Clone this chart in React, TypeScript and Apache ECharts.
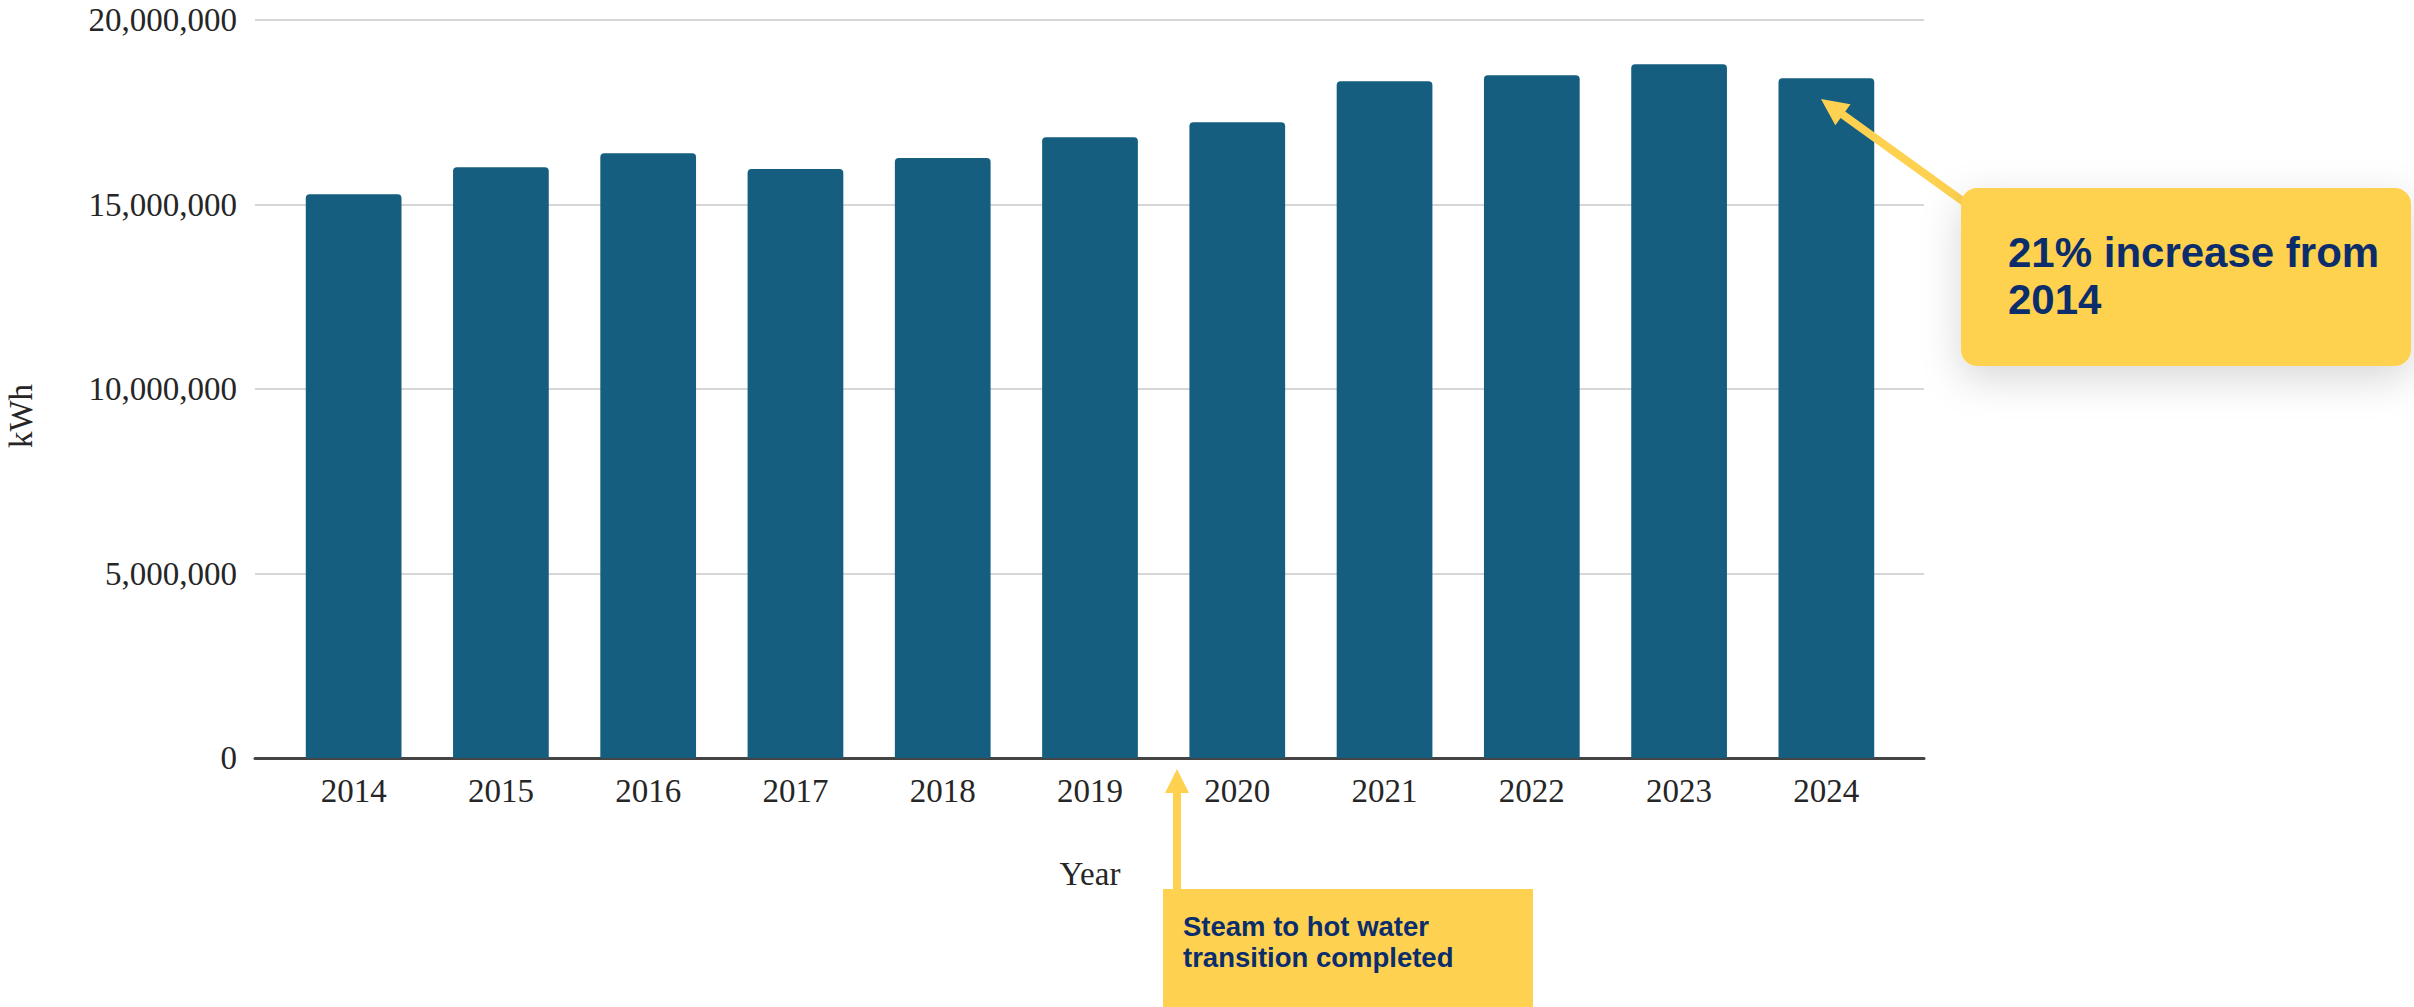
import React, { useEffect, useRef } from "react";
import * as echarts from "echarts";

const years = ["2014", "2015", "2016", "2017", "2018", "2019", "2020", "2021", "2022", "2023", "2024"];
const kwh = [15280000, 16010000, 16390000, 15960000, 16260000, 16820000, 17230000, 18340000, 18500000, 18800000, 18420000];
const yMin = 0;
const yMax = 20000000;
const yStep = 5000000;
const yAxisName = "kWh";
const xAxisName = "Year";
const noteTransition = ["Steam to hot water", "transition completed"];
const noteIncrease = ["21% increase from", "2014"];

const BAR = "#165e80";
const YELLOW = "#fed150";
const NAVY = "#0b2d6b";
const SERIF = "'Liberation Serif', 'Times New Roman', serif";
const SANS = "'Liberation Sans', Arial, sans-serif";

function arrowPoints(x1: number, y1: number, x2: number, y2: number, shaft: number, headLen: number, headW: number) {
  const dx = x2 - x1, dy = y2 - y1;
  const L = Math.hypot(dx, dy);
  const ux = dx / L, uy = dy / L;
  const nx = -uy, ny = ux;
  const bx = x2 - ux * headLen, by = y2 - uy * headLen;
  const s = shaft / 2, h = headW / 2;
  return [
    [x1 + nx * s, y1 + ny * s],
    [bx + nx * s, by + ny * s],
    [bx + nx * h, by + ny * h],
    [x2, y2],
    [bx - nx * h, by - ny * h],
    [bx - nx * s, by - ny * s],
    [x1 - nx * s, y1 - ny * s],
  ];
}

function lines(texts: string[], x: number, y0: number, step: number, font: string) {
  return texts.map((t, i) => ({
    type: "text",
    x,
    y: y0 + i * step,
    z: 11,
    style: { text: t, fill: NAVY, font, align: "left", verticalAlign: "middle" },
  }));
}

export default function App() {
  const ref = useRef<HTMLDivElement>(null);
  useEffect(() => {
    if (!ref.current) return;
    const chart = echarts.init(ref.current, undefined, { renderer: "svg" });
    const fmt = (v: number) => Number(v).toLocaleString("en-US");
    chart.setOption({
      animation: false,
      backgroundColor: "#ffffff",
      grid: [
        { left: 255, right: 490, top: 20, bottom: 249 },
        { left: 280, right: 514, top: 20, bottom: 249 },
      ],
      xAxis: [
        {
          type: "category",
          gridIndex: 0,
          data: years,
          axisLine: { show: true, lineStyle: { color: "#444444", width: 3 } },
          axisTick: { show: false },
          axisLabel: { show: false },
          splitLine: { show: false },
        },
        {
          type: "category",
          gridIndex: 1,
          data: years,
          axisLine: { show: false },
          axisTick: { show: false },
          axisLabel: { show: true, color: "#262626", fontFamily: SERIF, fontSize: 33, margin: 16 },
          name: xAxisName,
          nameLocation: "middle",
          nameGap: 99,
          nameTextStyle: { color: "#262626", fontFamily: SERIF, fontSize: 33 },
        },
      ],
      yAxis: [
        {
          type: "value",
          gridIndex: 0,
          min: yMin,
          max: yMax,
          interval: yStep,
          axisLine: { show: false },
          axisTick: { show: false },
          axisLabel: { color: "#262626", fontFamily: SERIF, fontSize: 33, margin: 18, formatter: fmt },
          splitLine: { show: true, lineStyle: { color: "#d6d6d6", width: 2 } },
        },
        {
          type: "value",
          gridIndex: 1,
          min: yMin,
          max: yMax,
          interval: yStep,
          show: false,
          splitLine: { show: false },
        },
      ],
      series: [
        {
          type: "bar",
          xAxisIndex: 1,
          yAxisIndex: 1,
          data: kwh,
          barWidth: "65%",
          itemStyle: { color: BAR, borderRadius: [4, 4, 0, 0] },
          z: 3,
        },
      ],
      graphic: [
        {
          type: "text",
          x: 21,
          y: 416,
          rotation: Math.PI / 2,
          style: { text: yAxisName, fill: "#262626", font: `33px ${SERIF}`, align: "center", verticalAlign: "middle" },
        },
        {
          type: "polygon",
          shape: { points: arrowPoints(1177, 889, 1177, 769, 8, 24, 24) },
          style: { fill: YELLOW },
          z: 10,
        },
        {
          type: "rect",
          shape: { x: 1163, y: 889, width: 370, height: 130 },
          style: { fill: YELLOW },
          z: 10,
        },
        ...lines(noteTransition, 1183, 926.5, 31, `bold 27.5px ${SANS}`),
        {
          type: "polygon",
          shape: { points: arrowPoints(1964, 202, 1821, 99, 8, 27, 26) },
          style: { fill: YELLOW },
          z: 10,
        },
        {
          type: "rect",
          shape: { x: 1961, y: 188, width: 450, height: 178, r: 16 },
          style: { fill: YELLOW, shadowBlur: 40, shadowColor: "rgba(0,0,0,0.16)", shadowOffsetY: 12 },
          z: 10,
        },
        ...lines(noteIncrease, 2008, 252.4, 47, `bold 42px ${SANS}`),
      ],
    });
    return () => chart.dispose();
  }, []);
  return <div ref={ref} style={{ position: "fixed", left: 0, top: 0, width: 2414, height: 1007, background: "#fff" }} />;
}
